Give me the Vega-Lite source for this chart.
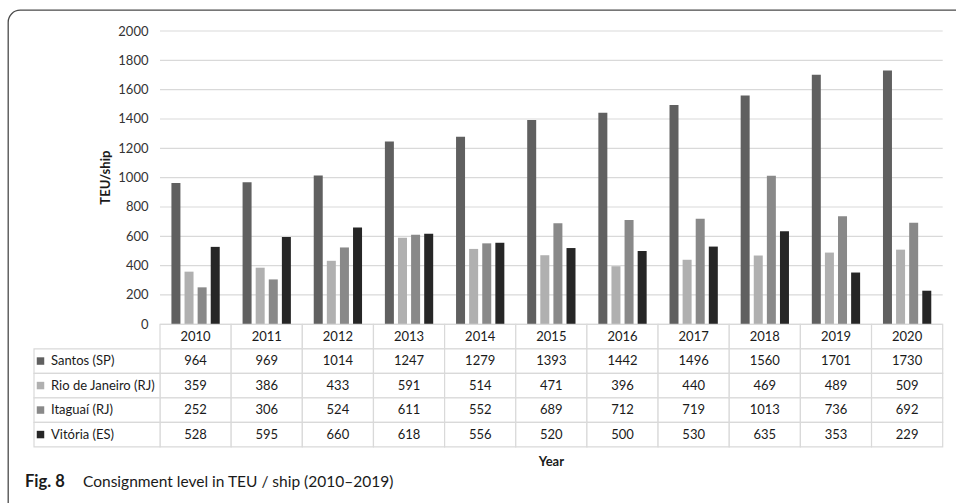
{
  "$schema": "https://vega.github.io/schema/vega-lite/v6.json",
  "width": 978,
  "height": 523,
  "autosize": {"type": "none"},
  "padding": {"left": 8, "top": 10, "right": -30, "bottom": -30},
  "background": "white",
  "config": {
    "view": {"stroke": "#4a4a4a", "strokeWidth": 1.3, "cornerRadius": 12},
    "font": "Lato",
    "text": {"font": "Lato"}
  },
  "resolve": {"scale": {"x": "independent", "y": "independent"}},
  "datasets": {
    "main": [
      {"year": "2010", "series": "Santos (SP)", "value": 964},
      {"year": "2011", "series": "Santos (SP)", "value": 969},
      {"year": "2012", "series": "Santos (SP)", "value": 1014},
      {"year": "2013", "series": "Santos (SP)", "value": 1247},
      {"year": "2014", "series": "Santos (SP)", "value": 1279},
      {"year": "2015", "series": "Santos (SP)", "value": 1393},
      {"year": "2016", "series": "Santos (SP)", "value": 1442},
      {"year": "2017", "series": "Santos (SP)", "value": 1496},
      {"year": "2018", "series": "Santos (SP)", "value": 1560},
      {"year": "2019", "series": "Santos (SP)", "value": 1701},
      {"year": "2020", "series": "Santos (SP)", "value": 1730},
      {"year": "2010", "series": "Rio de Janeiro (RJ)", "value": 359},
      {"year": "2011", "series": "Rio de Janeiro (RJ)", "value": 386},
      {"year": "2012", "series": "Rio de Janeiro (RJ)", "value": 433},
      {"year": "2013", "series": "Rio de Janeiro (RJ)", "value": 591},
      {"year": "2014", "series": "Rio de Janeiro (RJ)", "value": 514},
      {"year": "2015", "series": "Rio de Janeiro (RJ)", "value": 471},
      {"year": "2016", "series": "Rio de Janeiro (RJ)", "value": 396},
      {"year": "2017", "series": "Rio de Janeiro (RJ)", "value": 440},
      {"year": "2018", "series": "Rio de Janeiro (RJ)", "value": 469},
      {"year": "2019", "series": "Rio de Janeiro (RJ)", "value": 489},
      {"year": "2020", "series": "Rio de Janeiro (RJ)", "value": 509},
      {"year": "2010", "series": "Itaguaí (RJ)", "value": 252},
      {"year": "2011", "series": "Itaguaí (RJ)", "value": 306},
      {"year": "2012", "series": "Itaguaí (RJ)", "value": 524},
      {"year": "2013", "series": "Itaguaí (RJ)", "value": 611},
      {"year": "2014", "series": "Itaguaí (RJ)", "value": 552},
      {"year": "2015", "series": "Itaguaí (RJ)", "value": 689},
      {"year": "2016", "series": "Itaguaí (RJ)", "value": 712},
      {"year": "2017", "series": "Itaguaí (RJ)", "value": 719},
      {"year": "2018", "series": "Itaguaí (RJ)", "value": 1013},
      {"year": "2019", "series": "Itaguaí (RJ)", "value": 736},
      {"year": "2020", "series": "Itaguaí (RJ)", "value": 692},
      {"year": "2010", "series": "Vitória (ES)", "value": 528},
      {"year": "2011", "series": "Vitória (ES)", "value": 595},
      {"year": "2012", "series": "Vitória (ES)", "value": 660},
      {"year": "2013", "series": "Vitória (ES)", "value": 618},
      {"year": "2014", "series": "Vitória (ES)", "value": 556},
      {"year": "2015", "series": "Vitória (ES)", "value": 520},
      {"year": "2016", "series": "Vitória (ES)", "value": 500},
      {"year": "2017", "series": "Vitória (ES)", "value": 530},
      {"year": "2018", "series": "Vitória (ES)", "value": 635},
      {"year": "2019", "series": "Vitória (ES)", "value": 353},
      {"year": "2020", "series": "Vitória (ES)", "value": 229}
    ],
    "years": [
      {"year": "2010"}, {"year": "2011"}, {"year": "2012"}, {"year": "2013"},
      {"year": "2014"}, {"year": "2015"}, {"year": "2016"}, {"year": "2017"},
      {"year": "2018"}, {"year": "2019"}, {"year": "2020"}
    ],
    "series": [
      {"series": "Santos (SP)"},
      {"series": "Rio de Janeiro (RJ)"},
      {"series": "Itaguaí (RJ)"},
      {"series": "Vitória (ES)"}
    ],
    "grid": [
      {"v": 0}, {"v": 200}, {"v": 400}, {"v": 600}, {"v": 800}, {"v": 1000},
      {"v": 1200}, {"v": 1400}, {"v": 1600}, {"v": 1800}, {"v": 2000}
    ]
  },
  "layer": [
    {
      "data": {"name": "grid"},
      "mark": {"type": "rule", "color": "#d9d9d9", "strokeWidth": 1.2},
      "encoding": {
        "y": {
          "field": "v", "type": "quantitative",
          "scale": {"type": "linear", "domain": [0, 2000], "range": [314.3, 21], "nice": false, "zero": false},
          "axis": {
            "values": [0, 200, 400, 600, 800, 1000, 1200, 1400, 1600, 1800, 2000],
            "format": "d",
            "orient": "left", "offset": -152, "grid": false, "domain": false,
            "ticks": false, "tickSize": 0, "labelPadding": 12, "title": null,
            "labelFont": "Lato", "labelFontSize": 13, "labelColor": "#333333"
          }
        },
        "x": {
          "datum": "2010", "type": "ordinal", "bandPosition": 0,
          "scale": {"type": "band", "domain": ["2010","2011","2012","2013","2014","2015","2016","2017","2018","2019","2020"], "range": [152, 934.7], "paddingInner": 0, "paddingOuter": 0},
          "axis": null
        },
        "x2": {"datum": "2020", "bandPosition": 1}
      }
    },
    {
      "data": {"name": "main"},
      "mark": {"type": "bar"},
      "encoding": {
        "x": {
          "field": "year", "type": "ordinal",
          "scale": {"type": "band", "domain": ["2010","2011","2012","2013","2014","2015","2016","2017","2018","2019","2020"], "range": [152, 934.7], "paddingInner": 0, "paddingOuter": 0},
          "axis": null
        },
        "xOffset": {
          "field": "series", "type": "nominal",
          "scale": {"domain": ["Santos (SP)", "Rio de Janeiro (RJ)", "Itaguaí (RJ)", "Vitória (ES)"], "paddingInner": 0.313, "paddingOuter": 0.872}
        },
        "y": {
          "field": "value", "type": "quantitative",
          "scale": {"type": "linear", "domain": [0, 2000], "range": [314.3, 21], "nice": false, "zero": false},
          "axis": null
        },
        "y2": {"datum": 0},
        "color": {
          "field": "series", "type": "nominal",
          "scale": {"domain": ["Santos (SP)", "Rio de Janeiro (RJ)", "Itaguaí (RJ)", "Vitória (ES)"], "range": ["#606060", "#b0b0b0", "#898989", "#262626"]},
          "legend": null
        }
      }
    },
    {
      "data": {"name": "years"},
      "mark": {"type": "rect", "fill": "white", "stroke": "#d9d9d9", "strokeWidth": 1.2},
      "encoding": {
        "x": {
          "field": "year", "type": "ordinal",
          "scale": {"type": "band", "domain": ["2010","2011","2012","2013","2014","2015","2016","2017","2018","2019","2020"], "range": [152, 934.7], "paddingInner": 0, "paddingOuter": 0},
          "axis": null
        },
        "y": {
          "datum": "hdr", "type": "nominal",
          "scale": {"type": "band", "domain": ["hdr", "Santos (SP)", "Rio de Janeiro (RJ)", "Itaguaí (RJ)", "Vitória (ES)"], "range": [314.3, 436.8], "paddingInner": 0, "paddingOuter": 0},
          "axis": null
        }
      }
    },
    {
      "data": {"name": "main"},
      "mark": {"type": "rect", "fill": "white", "stroke": "#d9d9d9", "strokeWidth": 1.2},
      "encoding": {
        "x": {
          "field": "year", "type": "ordinal",
          "scale": {"type": "band", "domain": ["2010","2011","2012","2013","2014","2015","2016","2017","2018","2019","2020"], "range": [152, 934.7], "paddingInner": 0, "paddingOuter": 0},
          "axis": null
        },
        "y": {
          "field": "series", "type": "nominal",
          "scale": {"type": "band", "domain": ["hdr", "Santos (SP)", "Rio de Janeiro (RJ)", "Itaguaí (RJ)", "Vitória (ES)"], "range": [314.3, 436.8], "paddingInner": 0, "paddingOuter": 0},
          "axis": null
        }
      }
    },
    {
      "data": {"name": "series"},
      "mark": {"type": "rect", "fill": "white", "stroke": "#d9d9d9", "strokeWidth": 1.2},
      "encoding": {
        "x": {
          "datum": "lbl", "type": "nominal",
          "scale": {"type": "band", "domain": ["lbl"], "range": [26, 152], "paddingInner": 0, "paddingOuter": 0},
          "axis": null
        },
        "y": {
          "field": "series", "type": "nominal",
          "scale": {"type": "band", "domain": ["hdr", "Santos (SP)", "Rio de Janeiro (RJ)", "Itaguaí (RJ)", "Vitória (ES)"], "range": [314.3, 436.8], "paddingInner": 0, "paddingOuter": 0},
          "axis": null
        }
      }
    },
    {
      "data": {"name": "years"},
      "mark": {"type": "text", "fontSize": 13, "color": "#1a1a1a"},
      "encoding": {
        "x": {
          "field": "year", "type": "ordinal",
          "scale": {"type": "band", "domain": ["2010","2011","2012","2013","2014","2015","2016","2017","2018","2019","2020"], "range": [152, 934.7], "paddingInner": 0, "paddingOuter": 0},
          "axis": null
        },
        "y": {
          "datum": "hdr", "type": "nominal",
          "scale": {"type": "band", "domain": ["hdr", "Santos (SP)", "Rio de Janeiro (RJ)", "Itaguaí (RJ)", "Vitória (ES)"], "range": [314.3, 436.8], "paddingInner": 0, "paddingOuter": 0},
          "axis": null
        },
        "text": {"field": "year"}
      }
    },
    {
      "data": {"name": "main"},
      "mark": {"type": "text", "fontSize": 13, "color": "#1a1a1a"},
      "encoding": {
        "x": {
          "field": "year", "type": "ordinal",
          "scale": {"type": "band", "domain": ["2010","2011","2012","2013","2014","2015","2016","2017","2018","2019","2020"], "range": [152, 934.7], "paddingInner": 0, "paddingOuter": 0},
          "axis": null
        },
        "y": {
          "field": "series", "type": "nominal",
          "scale": {"type": "band", "domain": ["hdr", "Santos (SP)", "Rio de Janeiro (RJ)", "Itaguaí (RJ)", "Vitória (ES)"], "range": [314.3, 436.8], "paddingInner": 0, "paddingOuter": 0},
          "axis": null
        },
        "text": {"field": "value", "type": "quantitative", "format": "d"}
      }
    },
    {
      "data": {"name": "series"},
      "mark": {"type": "point", "shape": "square", "filled": true, "size": 56, "opacity": 1},
      "encoding": {
        "x": {
          "datum": "lbl", "type": "nominal", "bandPosition": 0.0516,
          "scale": {"type": "band", "domain": ["lbl"], "range": [26, 152], "paddingInner": 0, "paddingOuter": 0},
          "axis": null
        },
        "y": {
          "field": "series", "type": "nominal",
          "scale": {"type": "band", "domain": ["hdr", "Santos (SP)", "Rio de Janeiro (RJ)", "Itaguaí (RJ)", "Vitória (ES)"], "range": [314.3, 436.8], "paddingInner": 0, "paddingOuter": 0},
          "axis": null
        },
        "color": {
          "field": "series", "type": "nominal",
          "scale": {"domain": ["Santos (SP)", "Rio de Janeiro (RJ)", "Itaguaí (RJ)", "Vitória (ES)"], "range": ["#606060", "#b0b0b0", "#898989", "#262626"]},
          "legend": null
        }
      }
    },
    {
      "data": {"name": "series"},
      "mark": {"type": "text", "fontSize": 13, "color": "#1a1a1a", "align": "left"},
      "encoding": {
        "x": {
          "datum": "lbl", "type": "nominal", "bandPosition": 0.135,
          "scale": {"type": "band", "domain": ["lbl"], "range": [26, 152], "paddingInner": 0, "paddingOuter": 0},
          "axis": null
        },
        "y": {
          "field": "series", "type": "nominal",
          "scale": {"type": "band", "domain": ["hdr", "Santos (SP)", "Rio de Janeiro (RJ)", "Itaguaí (RJ)", "Vitória (ES)"], "range": [314.3, 436.8], "paddingInner": 0, "paddingOuter": 0},
          "axis": null
        },
        "text": {"field": "series"}
      }
    },
    {
      "data": {"values": [{"label": "TEU/ship"}]},
      "mark": {"type": "text", "fontSize": 13, "fontWeight": "bold", "color": "#1a1a1a", "angle": 270},
      "encoding": {
        "x": {
          "datum": "lbl", "type": "nominal", "bandPosition": 0.571,
          "scale": {"type": "band", "domain": ["lbl"], "range": [26, 152], "paddingInner": 0, "paddingOuter": 0},
          "axis": null
        },
        "y": {
          "datum": 1000, "type": "quantitative",
          "scale": {"type": "linear", "domain": [0, 2000], "range": [314.3, 21], "nice": false, "zero": false},
          "axis": null
        },
        "text": {"field": "label"}
      }
    },
    {
      "data": {"values": [{"label": "Year"}]},
      "mark": {"type": "text", "fontSize": 13, "fontWeight": "bold", "color": "#1a1a1a"},
      "encoding": {
        "x": {
          "datum": "2015", "type": "ordinal",
          "scale": {"type": "band", "domain": ["2010","2011","2012","2013","2014","2015","2016","2017","2018","2019","2020"], "range": [152, 934.7], "paddingInner": 0, "paddingOuter": 0},
          "axis": null
        },
        "y": {
          "datum": "Vitória (ES)", "type": "nominal", "bandPosition": 1.608,
          "scale": {"type": "band", "domain": ["hdr", "Santos (SP)", "Rio de Janeiro (RJ)", "Itaguaí (RJ)", "Vitória (ES)"], "range": [314.3, 436.8], "paddingInner": 0, "paddingOuter": 0},
          "axis": null
        },
        "text": {"field": "label"}
      }
    },
    {
      "data": {"values": [{"label": "Fig. 8"}]},
      "mark": {"type": "text", "fontSize": 16.5, "fontWeight": "bold", "color": "#1a1a1a", "align": "left", "baseline": "alphabetic"},
      "encoding": {
        "x": {
          "datum": "cap", "type": "nominal", "bandPosition": 0,
          "scale": {"type": "band", "domain": ["cap"], "range": [17, 75], "paddingInner": 0, "paddingOuter": 0},
          "axis": null
        },
        "y": {
          "datum": "Vitória (ES)", "type": "nominal", "bandPosition": 2.63,
          "scale": {"type": "band", "domain": ["hdr", "Santos (SP)", "Rio de Janeiro (RJ)", "Itaguaí (RJ)", "Vitória (ES)"], "range": [314.3, 436.8], "paddingInner": 0, "paddingOuter": 0},
          "axis": null
        },
        "text": {"field": "label"}
      }
    },
    {
      "data": {"values": [{"label": "Consignment level in TEU / ship (2010–2019)"}]},
      "mark": {"type": "text", "fontSize": 15.5, "color": "#1a1a1a", "align": "left", "baseline": "alphabetic"},
      "encoding": {
        "x": {
          "datum": "cap", "type": "nominal", "bandPosition": 1,
          "scale": {"type": "band", "domain": ["cap"], "range": [17, 75], "paddingInner": 0, "paddingOuter": 0},
          "axis": null
        },
        "y": {
          "datum": "Vitória (ES)", "type": "nominal", "bandPosition": 2.63,
          "scale": {"type": "band", "domain": ["hdr", "Santos (SP)", "Rio de Janeiro (RJ)", "Itaguaí (RJ)", "Vitória (ES)"], "range": [314.3, 436.8], "paddingInner": 0, "paddingOuter": 0},
          "axis": null
        },
        "text": {"field": "label"}
      }
    }
  ]
}
